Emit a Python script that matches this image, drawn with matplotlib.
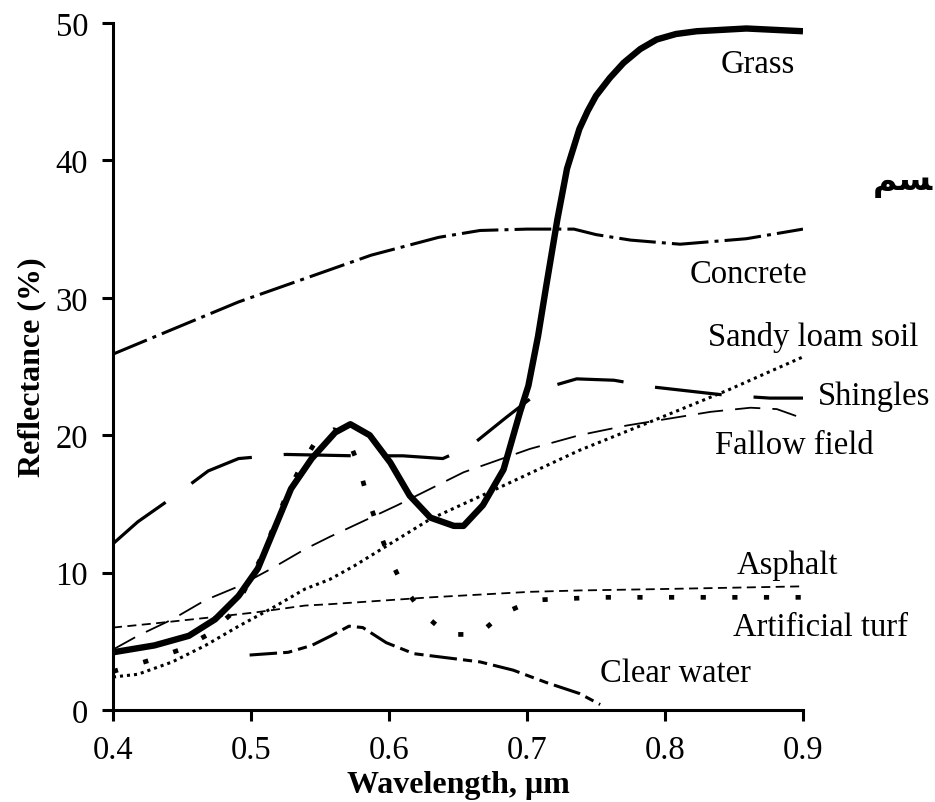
import numpy as np
import matplotlib
matplotlib.use('Agg')
import matplotlib.pyplot as plt

plt.rcParams['font.family'] = ['Liberation Serif', 'DejaVu Serif']

# Reflectance curves (wavelength in um, reflectance in %)
grass_x = [0.400, 0.430, 0.455, 0.474, 0.491, 0.505, 0.517, 0.529, 0.544, 0.561, 0.572, 0.586,
           0.601, 0.615, 0.630, 0.647, 0.654, 0.668, 0.683, 0.695, 0.701, 0.708, 0.714, 0.722,
           0.729, 0.738, 0.744, 0.750, 0.760, 0.770, 0.782, 0.794, 0.808, 0.823, 0.859, 0.900]
grass_y = [4.2, 4.7, 5.4, 6.6, 8.3, 10.3, 13.2, 16.1, 18.3, 20.2, 20.8, 20.0,
           18.0, 15.6, 14.0, 13.4, 13.4, 14.9, 17.5, 21.7, 23.6, 27.2, 30.9, 35.7,
           39.4, 42.3, 43.6, 44.7, 46.0, 47.1, 48.1, 48.8, 49.2, 49.4, 49.6, 49.4]

concrete_x = [0.400, 0.443, 0.491, 0.539, 0.587, 0.636, 0.666, 0.700, 0.734, 0.750, 0.775, 0.811, 0.859, 0.900]
concrete_y = [25.9, 27.7, 29.7, 31.4, 33.1, 34.4, 34.9, 35.0, 35.0, 34.6, 34.2, 33.9, 34.3, 35.0]

shingles_x = [0.400, 0.418, 0.445, 0.469, 0.491, 0.525, 0.575, 0.610, 0.639, 0.659, 0.685, 0.712,
              0.736, 0.763, 0.792, 0.845, 0.876, 0.900]
shingles_y = [12.1, 13.7, 15.6, 17.4, 18.3, 18.6, 18.5, 18.5, 18.3, 19.2, 21.3, 23.4,
              24.1, 24.0, 23.5, 22.9, 22.7, 22.7]

sandy_x = [0.400, 0.418, 0.443, 0.467, 0.491, 0.515, 0.539, 0.557, 0.575, 0.630, 0.678, 0.738, 0.790, 0.846, 0.900]
sandy_y = [2.4, 2.6, 3.5, 4.7, 6.1, 7.4, 8.8, 9.5, 10.5, 13.9, 16.1, 18.9, 21.0, 23.3, 25.7]

fallow_x = [0.400, 0.418, 0.443, 0.467, 0.491, 0.515, 0.539, 0.557, 0.606, 0.654, 0.702, 0.738,
            0.772, 0.833, 0.862, 0.881, 0.895]
fallow_y = [4.4, 5.4, 6.6, 8.0, 9.0, 10.3, 11.7, 12.6, 14.9, 17.3, 19.0, 20.0,
            20.7, 21.7, 22.0, 21.9, 21.4]

asphalt_x = [0.400, 0.430, 0.467, 0.503, 0.539, 0.557, 0.630, 0.702, 0.738, 0.796, 0.900]
asphalt_y = [6.0, 6.3, 6.7, 7.1, 7.6, 7.7, 8.2, 8.6, 8.7, 8.8, 9.0]

turf_x = [0.400, 0.426, 0.449, 0.469, 0.487, 0.509, 0.517, 0.526, 0.537, 0.549, 0.560, 0.569,
          0.578, 0.584, 0.592, 0.600, 0.611, 0.625, 0.642, 0.665, 0.682, 0.705, 0.728, 0.752,
          0.800, 0.847, 0.900]
turf_y = [2.8, 3.6, 4.4, 5.5, 7.1, 11.4, 13.5, 15.7, 17.9, 19.9, 20.4, 20.1,
          17.8, 15.6, 13.3, 11.1, 8.9, 7.0, 5.5, 5.5, 7.0, 8.0, 8.1, 8.2,
          8.2, 8.2, 8.2]

water_x = [0.499, 0.527, 0.544, 0.558, 0.571, 0.581, 0.598, 0.618, 0.642, 0.666, 0.690, 0.714, 0.738, 0.753]
water_y = [4.0, 4.2, 4.7, 5.4, 6.1, 6.0, 4.9, 4.1, 3.8, 3.5, 2.9, 2.0, 1.2, 0.4]

# curve labels: (text, left x, baseline y)
labels = [('Grass', 0.840, 46.4),
          ('Concrete', 0.818, 31.15),
          ('Sandy loam soil', 0.831, 26.6),
          ('Shingles', 0.911, 22.3),
          ('Fallow field', 0.836, 18.7),
          ('Asphalt', 0.852, 10.0),
          ('Artificial turf', 0.849, 5.46),
          ('Clear water', 0.753, 2.1)]

fig = plt.figure(figsize=(9.35, 8.03), dpi=100)
ax = fig.add_axes([113/935, 92/803, 690/935, 687/803])

ax.plot(concrete_x, concrete_y, color='black', lw=2.2, linestyle=(0, (12, 2, 1.3, 2)))
ax.plot(shingles_x, shingles_y, color='black', lw=2.3, linestyle=(0, (21, 10)))
ax.plot(fallow_x, fallow_y, color='black', lw=1.3, linestyle=(0, (14, 6.7)))
ax.plot(sandy_x, sandy_y, color='black', lw=2.2, linestyle=(0, (1, 1.3)))
ax.plot(asphalt_x, asphalt_y, color='black', lw=1.3, linestyle=(0, (5, 3)))
ax.plot(turf_x, turf_y, color='black', lw=3.4, linestyle=(0, (1.1, 5.6)))
ax.plot(water_x, water_y, color='black', lw=2.2, linestyle=(0, (9, 2, 3, 2, 3, 2)))
ax.plot(grass_x, grass_y, color='black', lw=4.6, solid_capstyle='butt', solid_joinstyle='round')

for txt, lx, ly in labels:
    ax.text(lx, ly, txt, fontsize=23.5, ha='left', va='baseline', clip_on=False)

ax.set_xlim(0.4, 0.9)
ax.set_ylim(0, 50)
ax.set_xticks([0.4, 0.5, 0.6, 0.7, 0.8, 0.9])
ax.set_xticklabels(['0.4', '0.5', '0.6', '0.7', '0.8', '0.9'])
ax.set_yticks([0, 10, 20, 30, 40, 50])

for s in ['top', 'right']:
    ax.spines[s].set_visible(False)
for s in ['left', 'bottom']:
    ax.spines[s].set_linewidth(2.2)
ax.tick_params(direction='out', length=8, width=2.2, labelsize=23.5, pad=10)

ax.set_xlabel('Wavelength, μm', fontsize=23, fontweight='bold')
ax.set_ylabel('Reflectance (%)', fontsize=23, fontweight='bold')
ax.xaxis.set_label_coords(0.5, -0.088)
ax.yaxis.set_label_coords(-0.097, 0.5)

# handwritten note at the right edge
fig.text(0.998, 1 - 190/803, '\ufee2\ufeb4', fontsize=24, fontweight='bold',
         family=['DejaVu Sans'], ha='right', va='baseline')

fig.savefig('out.png', dpi=100)
